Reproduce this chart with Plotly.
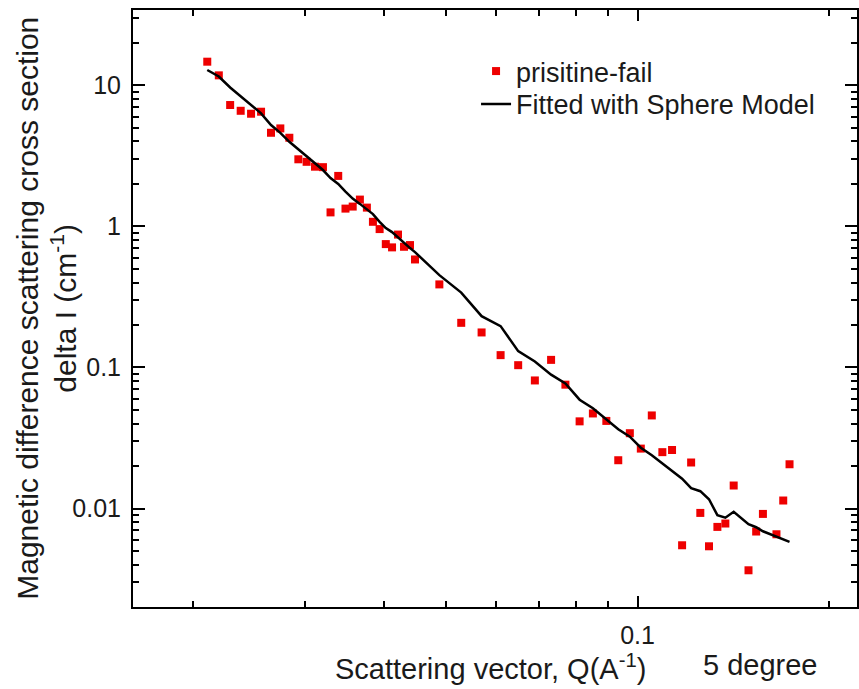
import plotly.graph_objects as go

# Q (1/A) and delta I (1/cm)
q_data = [0.02109, 0.02199, 0.02291, 0.02380, 0.02471, 0.02562, 0.02656, 0.02747,
          0.02838, 0.02932, 0.03021, 0.03114, 0.03205, 0.03294, 0.03387, 0.03477,
          0.03569, 0.03663, 0.03757, 0.03840, 0.03934, 0.04023, 0.04115, 0.04205,
          0.04297, 0.04391, 0.04471, 0.04883, 0.05285, 0.05689, 0.06094, 0.06494,
          0.06898, 0.07315, 0.07704, 0.08110, 0.08509, 0.08933, 0.09327, 0.09726,
          0.1012, 0.1053, 0.1094, 0.1133, 0.1175, 0.1214, 0.1255, 0.1295,
          0.1335, 0.1374, 0.1416, 0.1494, 0.1536, 0.1574, 0.1653, 0.1694, 0.1733]

i_data = [14.71, 11.77, 7.25, 6.60, 6.29, 6.50, 4.61, 4.95,
          4.25, 2.99, 2.87, 2.65, 2.63, 1.257, 2.28, 1.337,
          1.382, 1.549, 1.359, 1.078, 0.957, 0.749, 0.710, 0.875,
          0.717, 0.737, 0.583, 0.388, 0.2072, 0.1771, 0.1223, 0.1038,
          0.0809, 0.1132, 0.0755, 0.0415, 0.0472, 0.0418, 0.0220, 0.0342,
          0.0266, 0.0457, 0.0251, 0.0260, 0.00549, 0.0212, 0.00931, 0.00540,
          0.00741, 0.00783, 0.01456, 0.00365, 0.00687, 0.00916, 0.00657, 0.01140, 0.0206]

# sphere-model fit, evaluated at the same Q
i_fit = [12.84, 11.55, 9.65, 8.40, 7.25, 6.33, 5.23, 4.60,
         3.98, 3.53, 3.15, 2.81, 2.51, 2.20, 2.00, 1.765,
         1.575, 1.444, 1.326, 1.222, 1.078, 0.973, 0.911, 0.833,
         0.761, 0.702, 0.657, 0.4515, 0.3393, 0.2311, 0.1964, 0.1305,
         0.1103, 0.0889, 0.0770, 0.0591, 0.0514, 0.0430, 0.0365, 0.0323,
         0.0270, 0.0239, 0.0210, 0.0184, 0.01627, 0.01393, 0.01327, 0.01164,
         0.00897, 0.00861, 0.00949, 0.00774, 0.00737, 0.00690, 0.00636, 0.00606, 0.00581]

x_ticks = [0.1]
x_ticktext = ["0.1"]
y_ticks = [0.01, 0.1, 1, 10]
y_ticktext = ["0.01", "0.1", "1", "10"]

FONT = "Liberation Sans, Arial, sans-serif"
TXT = "#1a1a1a"

fig = go.Figure()
fig.add_trace(go.Scatter(
    x=q_data, y=i_data, mode="markers", name="prisitine-fail",
    legend="legend",
    marker=dict(symbol="square", size=8, color="#ee0000")))
fig.add_trace(go.Scatter(
    x=q_data, y=i_fit, mode="lines", name="Fitted with Sphere Model",
    legend="legend2",
    line=dict(color="black", width=2.5)))

axis_common = dict(
    type="log", showline=True, linecolor="black", linewidth=2,
    mirror="allticks", ticks="inside", tickwidth=2, tickcolor="black",
    showgrid=False, zeroline=False,
    tickfont=dict(family=FONT, size=25, color=TXT),
    minor=dict(ticks="inside", ticklen=6, tickwidth=2, tickcolor="black",
               dtick="D1", showgrid=False),
)

fig.update_xaxes(range=[-1.7926, -0.6552], tickmode="array", tickvals=x_ticks,
                 ticktext=x_ticktext, ticklen=11, ticklabelstandoff=5,
                 **axis_common)
fig.update_yaxes(range=[-2.698, 1.534], tickmode="array", tickvals=y_ticks,
                 ticktext=y_ticktext, ticklen=12, ticklabelstandoff=5,
                 **axis_common)

# y title: two rotated lines
fig.add_annotation(
    text="Magnetic difference scattering cross section",
    xref="paper", yref="paper", x=(27 - 133) / 726, y=0.5, textangle=-90,
    xanchor="center", yanchor="middle", showarrow=False,
    font=dict(family=FONT, size=30, color=TXT))
fig.add_annotation(
    text="delta I (cm<sup>-1</sup>)",
    xref="paper", yref="paper", x=(63 - 133) / 726, y=0.5, textangle=-90,
    xanchor="center", yanchor="middle", showarrow=False,
    font=dict(family=FONT, size=30, color=TXT))
fig.add_annotation(
    text="Scattering vector, Q(A<sup>-1</sup>)",
    xref="paper", yref="paper", x=(491 - 133) / 726, y=-(667 - 607) / 597,
    xanchor="center", yanchor="middle", showarrow=False,
    font=dict(family=FONT, size=29, color=TXT))
fig.add_annotation(
    text="5 degree", xref="paper", yref="paper",
    x=(762 - 133) / 726, y=-(665 - 607) / 597,
    xanchor="center", yanchor="middle", showarrow=False,
    font=dict(family=FONT, size=29, color=TXT))

legend_style = dict(xanchor="left", yanchor="top", bgcolor="rgba(0,0,0,0)",
                    font=dict(family=FONT, size=27, color=TXT))

fig.update_layout(
    width=859, height=689,
    margin=dict(l=133, r=0, t=10, b=82),
    paper_bgcolor="white", plot_bgcolor="white",
    showlegend=True,
    legend=dict(x=(477 - 133) / 726, y=0.938, **legend_style),
    legend2=dict(x=(477 - 133) / 726, y=0.883, **legend_style),
)

fig.write_html("out.html", config={"displayModeBar": False},
               post_script="document.body.style.margin='0';")
